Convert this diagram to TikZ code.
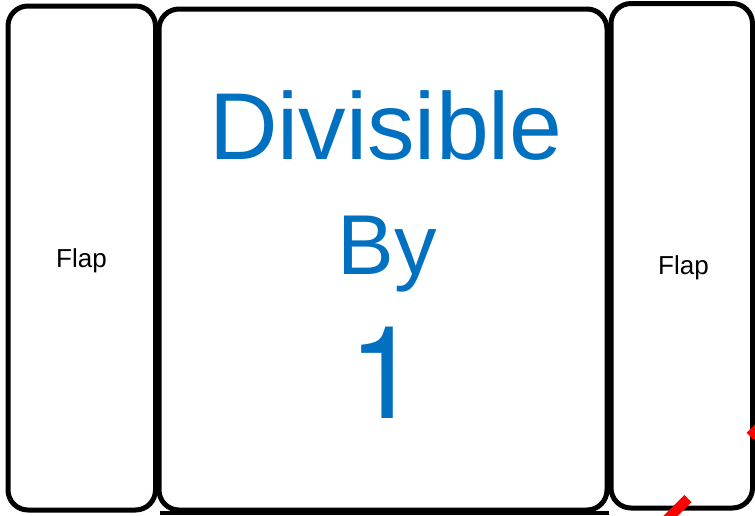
\documentclass[tikz,border=0pt]{standalone}
\usepackage{fontspec}
\setmainfont{Liberation Sans}
\newfontfamily\digitfont{TeX Gyre Heros}
\usetikzlibrary{positioning}
\definecolor{labelblue}{HTML}{0070C0}

\begin{document}
\begin{tikzpicture}[
    x=1pt, y=-1pt,
    panel/.style={
        draw,
        line width=5pt,
        rounded corners=20pt,
        inner sep=0pt
    },
    flaplabel/.style={anchor=base, font=\fontsize{26}{30}\selectfont},
    mainlabel/.style={anchor=base, text=labelblue},
    baseline/.style={draw, line width=4pt},
    cutline/.style={draw=red, line width=10pt, dash pattern=on 40pt off 88pt}
]
\fill[white] (0,0) rectangle (755,515);
\useasboundingbox (0,0) rectangle (755,515);

\node[panel, minimum width=147.5pt, minimum height=504pt] (leftFlap) at (81.75,258) {};
\node[panel, minimum width=448pt, minimum height=501pt] (centerPanel) at (383,259.5) {};
\node[panel, minimum width=141.5pt, minimum height=504.5pt] (rightFlap) at (681.75,255.75) {};

\node[flaplabel] (leftLabel) at (81.5,267) {Flap};
\node[flaplabel] (rightLabel) at (683.5,274) {Flap};

\node[mainlabel, font=\fontsize{95}{100}\selectfont] (divisibleLabel) at (386,159) {Divisible};
\node[mainlabel, font=\fontsize{85}{90}\selectfont] (byLabel) at (387,274) {By};
\node[mainlabel, font=\digitfont\fontsize{129}{130}\selectfont] (numberLabel) at (384.5,418) {1};

\coordinate (baseStart) at (160,512.5);
\coordinate (baseEnd) at (609,512.5);
\draw[baseline] (baseStart) -- (baseEnd);

\coordinate (cutStart) at (659.7,526.8);
\coordinate (cutEnd) at (830,356.5);
\draw[cutline] (cutStart) -- (cutEnd);

\end{tikzpicture}
\end{document}
